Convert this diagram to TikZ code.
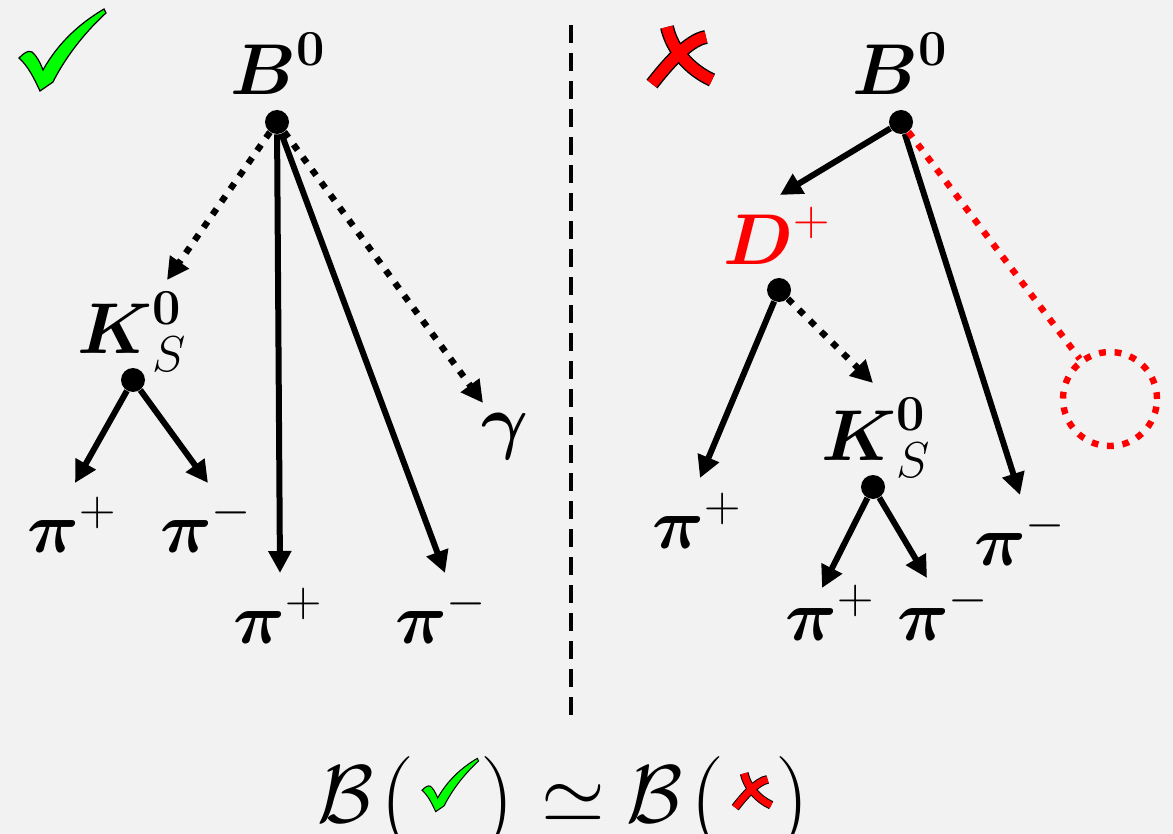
\RequirePackage{fix-cm}
\documentclass[tikz,border=0pt]{standalone}
\usepackage{amsmath}
\usetikzlibrary{arrows.meta}
\definecolor{bg}{HTML}{F2F2F2}
\definecolor{chk}{HTML}{00FF00}
\definecolor{xred}{HTML}{FF0000}
\tikzset{
  lbl/.style={anchor=base, inner sep=0pt, font=\fontsize{36}{40}\selectfont},
  fml/.style={anchor=base, inner sep=0pt, font=\fontsize{41}{48}\selectfont},
  paren/.style={anchor=base, inner sep=0pt, font=\fontsize{48}{54}\selectfont},
  dotnode/.style={circle, fill=black, inner sep=0pt, minimum size=12pt},
  decay/.style={line width=3pt, -{Triangle[length=11pt,width=11pt]}},
  dotline/.style={line width=3.2pt, dash pattern=on 3.4pt off 4.4pt},
  pics/checkmark/.style={code={
    \filldraw[fill=chk, draw=black, line width=#1]
      (-43,8) .. controls (-38,3) and (-34,0) .. (-30,2)
      .. controls (-26,5) and (-22,12) .. (-19,20)
      .. controls (-5,-5) and (15,-25) .. (42,-41) -- (44,-37)
      .. controls (20,-15) and (2,10) .. (-9,32) -- (-22,41)
      .. controls (-28,28) and (-34,16) .. cycle;
  }},
  pics/crossmark/.style 2 args={code={
    \draw[black, line width=#1] (-13,-31) .. controls (-8,-8) and (10,12) .. (32,22);
    \draw[black, line width=#1] (26,-21) .. controls (8,-18) and (-14,8) .. (-28,26);
    \draw[xred, line width=#2] (-13,-31) .. controls (-8,-8) and (10,12) .. (32,22);
    \draw[xred, line width=#2] (26,-21) .. controls (8,-18) and (-14,8) .. (-28,26);
  }}
}
\begin{document}
\begin{tikzpicture}[x=0.5pt,y=-0.5pt]
\fill[bg] (0,0) rectangle (1173,834);
\useasboundingbox (0,0) rectangle (1173,834);

% marks
\pic at (62,50) {checkmark=0.6pt};
\pic at (680,58) {crossmark={7pt}{5.6pt}};

% divider
\coordinate (dtop) at (571,25);
\coordinate (dbot) at (571,716);
\draw[line width=2pt, dash pattern=on 9pt off 5pt] (dtop) -- (dbot);

% ---------- left tree ----------
\node[dotnode] (b1) at (277,122) {};
\node[lbl] (b1l) at (278,95) {$\boldsymbol{B}^{\mathbf{0}}$};
\node[dotnode] (k1) at (133,380) {};
\node[lbl] (k1l) at (132,354) {$\boldsymbol{K}^{\mathbf{0}}_{S}$};
\node[lbl] (p1) at (72,552) {$\boldsymbol{\pi}^{+}$};
\node[lbl] (m1) at (206,552) {$\boldsymbol{\pi}^{-}$};
\node[lbl] (p2) at (278,643) {$\boldsymbol{\pi}^{+}$};
\node[lbl] (m2) at (441,643) {$\boldsymbol{\pi}^{-}$};
\node[lbl] (g1) at (505,445) {$\boldsymbol{\gamma}$};

\coordinate (tk1) at (167,280);
\coordinate (tg1) at (483,403);
\coordinate (tp2) at (280,573);
\coordinate (tm2) at (445,573);
\coordinate (tp1) at (75,483);
\coordinate (tm1) at (208,483);

\draw[decay, dotline] (b1) -- (tk1);
\draw[decay, dotline] (b1) -- (tg1);
\draw[decay] (b1) -- (tp2);
\draw[decay] (b1) -- (tm2);
\draw[decay] (k1) -- (tp1);
\draw[decay] (k1) -- (tm1);

% ---------- right tree ----------
\node[dotnode] (b2) at (901,122) {};
\node[lbl] (b2l) at (900,95) {$\boldsymbol{B}^{\mathbf{0}}$};
\node[dotnode] (d2) at (779,290) {};
\node[lbl, text=xred] (d2l) at (777,265) {$\boldsymbol{D}^{+}$};
\node[dotnode] (k2) at (873,487) {};
\node[lbl] (k2l) at (876,460) {$\boldsymbol{K}^{\mathbf{0}}_{S}$};
\node[lbl] (p3) at (697,548) {$\boldsymbol{\pi}^{+}$};
\node[lbl] (m3) at (1020,565) {$\boldsymbol{\pi}^{-}$};
\node[lbl] (p4) at (830,640) {$\boldsymbol{\pi}^{+}$};
\node[lbl] (m4) at (943,640) {$\boldsymbol{\pi}^{-}$};
\node[circle, draw=xred, dotline, minimum size=47pt, inner sep=0pt] (miss) at (1110,399) {};

\coordinate (td2) at (780,195);
\coordinate (tm3) at (1020,495);
\coordinate (tp3) at (700,478);
\coordinate (tk2) at (873,383);
\coordinate (tp4) at (822,588);
\coordinate (tm4) at (927,578);

\draw[decay] (b2) -- (td2);
\draw[decay] (b2) -- (tm3);
\draw[dotline, xred] (b2) -- (miss);
\draw[decay] (d2) -- (tp3);
\draw[decay, dotline] (d2) -- (tk2);
\draw[decay] (k2) -- (tp4);
\draw[decay] (k2) -- (tm4);

% ---------- formula ----------
\node[fml] (f1) at (346,822) {$\mathcal{B}$};
\node[paren] (f2) at (397,828) {$($};
\pic[scale=0.65] at (450,785) {checkmark=0.5pt};
\node[paren] (f3) at (497,828) {$)$};
\node[fml] (f4) at (573,822) {$\simeq$};
\node[fml] (f5) at (655,822) {$\mathcal{B}$};
\node[paren] (f6) at (707,828) {$($};
\pic[scale=0.6] at (752,792) {crossmark={4.4pt}{3.4pt}};
\node[paren] (f7) at (792,828) {$)$};
\end{tikzpicture}
\end{document}
